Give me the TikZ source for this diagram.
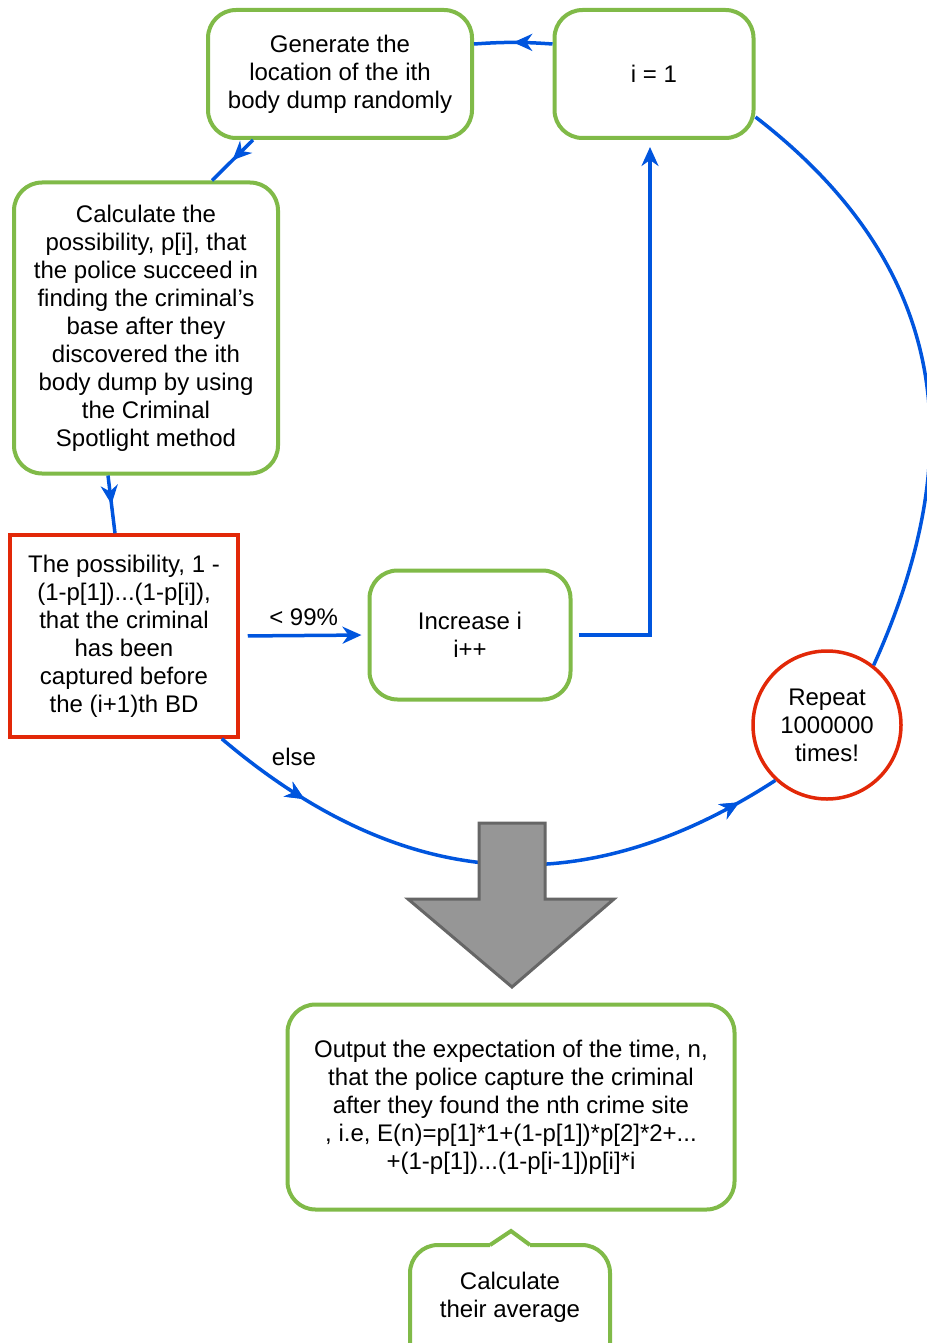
\documentclass[tikz,border=0pt]{standalone}
\usepackage{fontspec}
\setmainfont{Liberation Sans}
\usetikzlibrary{arrows.meta,decorations.markings}
\definecolor{boxgreen}{RGB}{128,186,72}
\definecolor{testred}{RGB}{226,40,8}
\definecolor{flowblue}{RGB}{0,85,222}
\definecolor{arrowgray}{RGB}{150,150,150}
\definecolor{arrowedge}{RGB}{102,102,102}
\newcommand{\flowfont}{\fontsize{24}{28}\selectfont}
\tikzset{
  >={Stealth[length=19pt,width=17pt,inset=6pt]},
  box/.style={draw=boxgreen,line width=4pt,rounded corners=28pt,fill=white,align=center,font=\flowfont},
  decision/.style={draw=testred,line width=3.5pt,fill=white,align=center,font=\flowfont},
  counter/.style={circle,draw=testred,line width=3.5pt,fill=white,align=center,font=\flowfont,inner sep=0pt},
  flow/.style={draw=flowblue,line width=3.5pt},
  midarrow/.style={postaction=decorate,decoration={markings,mark=at position #1 with {\arrow{>}}}},
}
\begin{document}
\begin{tikzpicture}[x=1pt,y=-1pt]
  \useasboundingbox (0,0) rectangle (926,1343);
  % steps of one run
  \node[box,minimum width=264pt,minimum height=128pt](gen)at(340,74){Generate the\\location of the ith\\body dump randomly};
  \node[box,minimum width=199pt,minimum height=128pt](init)at(654,74){i = 1};
  \node[box,minimum width=264pt,minimum height=291pt](calc)at(146,328){Calculate the\\possibility, p[i], that\\the police succeed in\\finding the criminal’s\\base after they\\discovered the ith\\body dump by using\\the Criminal\\Spotlight method};
  \node[decision,minimum width=228pt,minimum height=202pt](prob)at(124,636){The possibility, 1 -\\(1-p[1])...(1-p[i]),\\that the criminal\\has been\\captured before\\the (i+1)th BD};
  \node[box,minimum width=201pt,minimum height=129pt](inc)at(470,635){Increase i\\i++};
  \node[counter,minimum size=148pt](rep)at(827,725){Repeat\\1000000\\times!};
  \node[box,minimum width=447pt,minimum height=205pt](out)at(511,1107){Output the expectation of the time, n,\\that the police capture the criminal\\after they found the nth crime site\\, i.e, E(n)=p[1]*1+(1-p[1])*p[2]*2+...\\+(1-p[1])...(1-p[i-1])p[i]*i};
  % loop
  \draw[flow,midarrow=0.5]([yshift=30pt]init.west)to[bend right=4]([yshift=30pt]gen.east);
  \draw[flow,midarrow=0.5]([xshift=-87pt]gen.south)--([xshift=66pt]calc.north);
  \draw[flow,midarrow=0.5]([xshift=-38pt]calc.south)--([xshift=-9pt]prob.north);
  \draw[flow,->,shorten <=8pt,shorten >=6pt](prob.east)--node[above=5pt,font=\flowfont](lt){< 99\%}(inc.west);
  \draw[flow,->,shorten <=6pt,shorten >=7pt](inc.east)-|([xshift=-4pt]init.south);
  \draw[flow,midarrow=0.17,midarrow=0.93]([xshift=-18pt]prob.south east)
     ..controls(407,896)and(588,902)..(rep.227);
  \node[font=\flowfont](els)at(294,757){else};
  \draw[flow](rep.52)..controls(965,463)and(959,274)..([yshift=23pt]init.south east);
  % big arrow down
  \draw[fill=arrowgray,draw=arrowedge,line width=3pt,line join=miter]
     (479,823)--(545,823)--(545,899)--(614,899)--(512,987)--(408,899)--(479,899)--cycle;
  % callout
  \draw[draw=boxgreen,line width=4pt,rounded corners=28pt]
     (490,1245)--(410,1245)--(410,1390)--(610,1390)--(610,1245)--(530,1245);
  \draw[draw=boxgreen,line width=4pt](490,1245)--(511,1231)--(530,1245);
  \node[font=\flowfont,align=center](avg)at(510,1297){Calculate\\their average};
\end{tikzpicture}
\end{document}
